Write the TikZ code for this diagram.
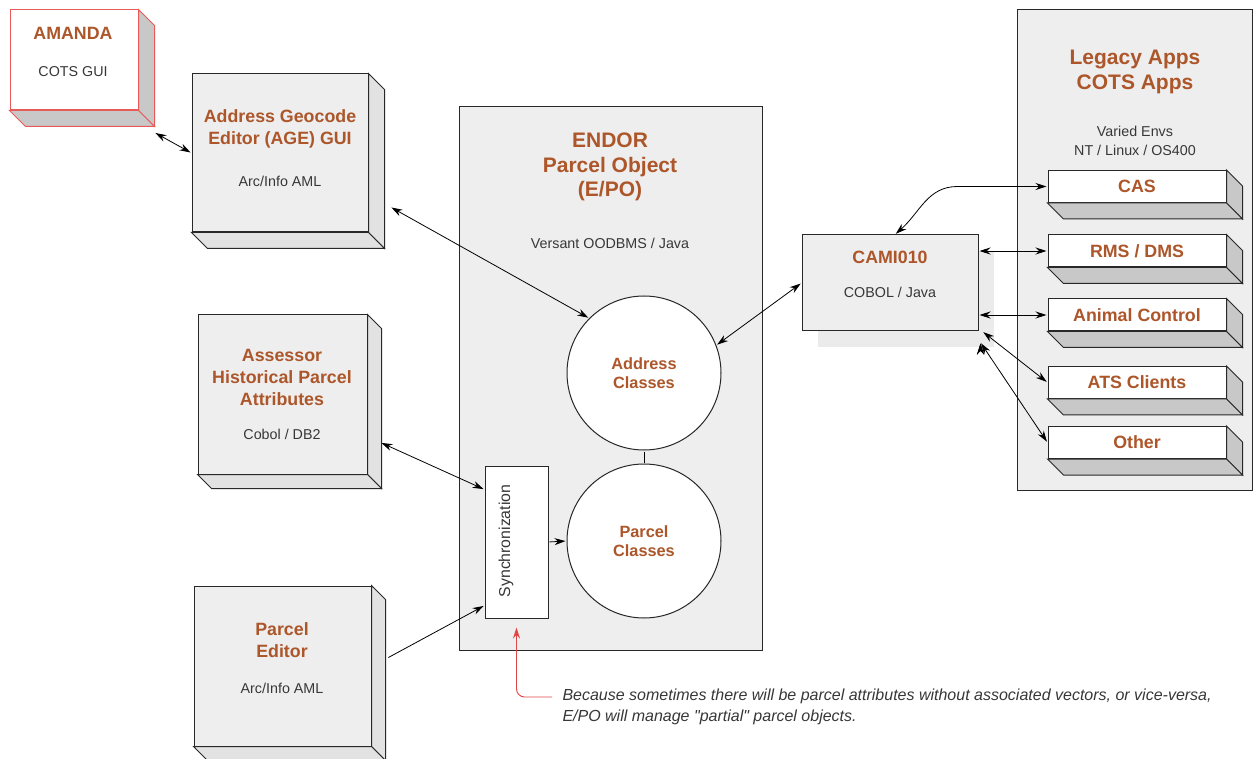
\documentclass[tikz,border=0pt]{standalone}
\usepackage{fontspec}
\setmainfont{Liberation Sans}[Ligatures=TeXOff]
\usepackage{graphicx}
\usetikzlibrary{arrows.meta,shadows}

\definecolor{headbrown}{RGB}{172,86,42}
\definecolor{boxgrey}{RGB}{238,238,238}
\definecolor{sidegrey}{RGB}{200,200,200}
\definecolor{lightside}{RGB}{226,226,226}
\definecolor{linegrey}{RGB}{40,40,40}
\definecolor{textgrey}{RGB}{55,55,55}
\definecolor{notered}{RGB}{225,70,70}
\definecolor{amandared}{RGB}{232,90,90}

% side and bottom faces of a box node: [style]{node}{depth}
\newcommand{\slab}[3][]{%
  \filldraw[draw=linegrey,fill=sidegrey,#1] (#2.north east) -- ++(#3,#3) -- ([shift={(#3,#3)}]#2.south east) -- (#2.south east) -- cycle;
  \filldraw[draw=linegrey,fill=sidegrey,#1] (#2.south west) -- ++(#3,#3) -- ([shift={(#3,#3)}]#2.south east) -- (#2.south east) -- cycle;}

\begin{document}
\begin{tikzpicture}[x=1pt,y=-1pt,>={Stealth[length=11pt,width=7pt]},line width=1pt,
    frame/.style={draw=linegrey,fill=boxgrey,inner sep=0pt},
    greybox/.style={draw=linegrey,fill=boxgrey,inner sep=0pt},
    whitebox/.style={draw=linegrey,fill=white,inner sep=0pt},
    classnode/.style={circle,draw=linegrey,fill=white,minimum size=154pt,inner sep=0pt},
    head/.style={text=headbrown,font=\fontsize{17.8}{22}\selectfont\bfseries,align=center},
    bighead/.style={text=headbrown,font=\fontsize{21}{24.5}\selectfont\bfseries,align=center},
    sub/.style={text=textgrey,font=\fontsize{14.3}{18.5}\selectfont,align=center},
    note/.style={text=textgrey,font=\fontsize{16}{21}\selectfont\itshape,align=left,inner sep=0pt},
    link/.style={<->,draw=black,line width=0.8pt,shorten >=1pt,shorten <=1pt}]
    \useasboundingbox (0,0) rectangle (1254,759);

    % containers
    \node[frame,minimum width=303pt,minimum height=543pt] (endor) at (610.5,378.5) {};
    \node[frame,minimum width=235pt,minimum height=480pt] (legacy) at (1134.5,250) {};

    % boxes on the left
    \node[whitebox,draw=amandared,minimum width=128pt,minimum height=100pt] (amanda) at (74,60) {};
    \slab[draw=amandared]{amanda}{16}
    \node[greybox,minimum width=176pt,minimum height=158pt] (age) at (280,153) {};
    \slab[fill=lightside]{age}{16}
    \node[greybox,minimum width=169pt,minimum height=159pt] (assessor) at (282.5,394.5) {};
    \slab[fill=lightside]{assessor}{14}
    \node[greybox,minimum width=177pt,minimum height=160pt] (editor) at (282.5,666) {};
    \slab[fill=lightside]{editor}{14}

    % inside E/PO
    \node[classnode] (addr) at (644,373) {};
    \node[classnode] (parcel) at (644,541) {};
    \node[whitebox,minimum width=63pt,minimum height=152pt] (sync) at (516.5,542) {};

    % CAMI010
    \node[greybox,general shadow={fill=black!8,shadow xshift=16pt,shadow yshift=-16pt},
          minimum width=176pt,minimum height=96pt] (cami) at (890,283) {};

    % applications
    \foreach \name/\ypos/\label in {cas/186.5/CAS, rms/251/{RMS / DMS}, animal/315/Animal Control,
                                    ats/382.5/ATS Clients, other/442.5/Other} {
        \node[whitebox,head,minimum width=178pt,minimum height=32pt] (\name) at (1137,\ypos) {\label};
        \slab{\name}{16}
    }

    % texts
    \node[head] (amanda-t) at (73,33) {AMANDA};
    \node[sub] (amanda-s) at (73,72) {COTS GUI};
    \node[head] (age-t) at (280,128.5) {Address Geocode\\Editor (AGE) GUI};
    \node[sub] (age-s) at (280,181) {Arc/Info AML};
    \node[head] (assessor-t) at (282,377) {Assessor\\Historical Parcel\\Attributes};
    \node[sub] (assessor-s) at (282,434) {Cobol / DB2};
    \node[head] (editor-t) at (282,640) {Parcel\\Editor};
    \node[sub] (editor-s) at (282,688) {Arc/Info AML};
    \node[bighead] (endor-t) at (610,167) {ENDOR\\Parcel Object\\(E/PO)};
    \node[sub] (endor-s) at (610,243) {Versant OODBMS / Java};
    \node[head,font=\fontsize{16.3}{19.5}\selectfont\bfseries] (addr-t) at (644,373) {Address\\Classes};
    \node[head,font=\fontsize{16.3}{19.5}\selectfont\bfseries] (parcel-t) at (644,541) {Parcel\\Classes};
    \node[sub,rotate=90,font=\fontsize{15.8}{18}\selectfont] (sync-t) at (506,541) {Synchronization};
    \node[head] (cami-t) at (890,257) {CAMI010};
    \node[sub] (cami-s) at (890,292) {COBOL / Java};
    \node[bighead] (legacy-t) at (1135,72) {Legacy Apps\\COTS Apps};
    \node[sub] (legacy-s) at (1135,141) {Varied Envs\\NT / Linux / OS400};
    \node[note,anchor=north west] (note) at (562,688)
        {Because sometimes there will be parcel attributes without associated vectors, or vice-versa,\\
         E/PO will manage "partial" parcel objects.};

    % connectors
    \path[link]
        ([shift={(16,22)}]amanda.south east) edge (age.west)
        ([shift={(22,54)}]age.east) edge (addr.135)
        ([shift={(13,48)}]assessor.east) edge ([yshift=-24pt]sync.north west)
        (addr.21) edge (cami.west)
        (cami.east |- rms.west) edge (rms.west)
        (cami.east |- animal.west) edge (animal.west)
        ([xshift=4pt]cami.south east) edge (ats.west)
        ([shift={(2,11)}]cami.south east) edge (other.west);
    \draw[link] (cas.west) -- ++(-90,0) .. controls +(-30,0) and +(25,-22) .. ([xshift=5pt]cami.north);
    \path[link,-]
        ([shift={(16,-8)}]editor.east) edge[->] ([yshift=13pt]sync.south west)
        (sync.east) edge[->] (parcel.west)
        (addr.south) edge (parcel.north);
    \draw[notered,line width=0.9pt,->,rounded corners=8pt,shorten >=9pt]
        ([shift={(-10,9)}]note.north west) -| (sync.south);
\end{tikzpicture}
\end{document}
